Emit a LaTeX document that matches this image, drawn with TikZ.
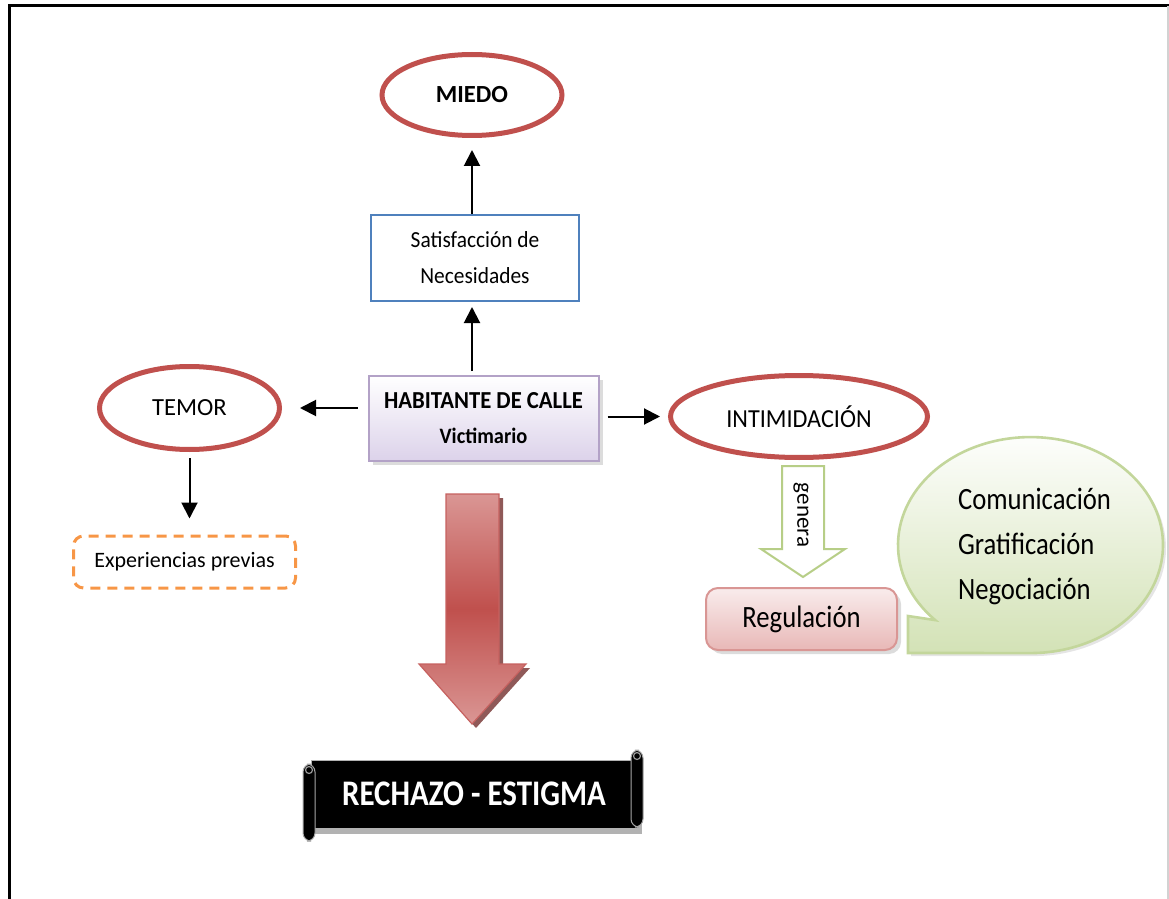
\documentclass[tikz,border=0pt]{standalone}
\usepackage{fontspec}
\setmainfont{Carlito}
\newfontfamily\condfont{Carlito}[FakeStretch=0.86]
\newfontfamily\semicond{Carlito}[FakeStretch=0.93]
\usetikzlibrary{shapes.geometric,arrows.meta,shadows,calc}
\definecolor{ovalred}{HTML}{C0504D}
\definecolor{boxblue}{HTML}{4F81BD}
\definecolor{lilacedge}{HTML}{B3A2C7}
\definecolor{lilacfill}{HTML}{DCD2EA}
\definecolor{orangedash}{HTML}{F79646}
\definecolor{pinkedge}{HTML}{D99694}
\definecolor{pinklight}{HTML}{F9ECEC}
\definecolor{pinkfill}{HTML}{E8B8B7}
\definecolor{greenedge}{HTML}{C3D69B}
\definecolor{greenfill}{HTML}{D3E2B6}
\definecolor{arrowgreen}{HTML}{9BBB59}
\definecolor{redlight}{HTML}{DA9694}
\tikzset{
  oval/.style={ellipse, draw=ovalred, line width=2.5pt, fill=white, inner sep=0pt},
  arr/.style={-{Triangle[length=8pt,width=8pt]}, line width=1pt, black},
  softshadow/.style={drop shadow={shadow xshift=2pt, shadow yshift=-2pt, fill=gray!55}},
}
\begin{document}
\begin{tikzpicture}[x=0.5pt,y=-0.5pt]
\useasboundingbox (0,0) rectangle (1169,899);
% frame
\draw[line width=1.5pt] (9.5,899) -- (9.5,6) -- (1169,6);
\draw[gray!35, line width=1pt] (1167.5,6) -- (1167.5,899);

% nodes
\node[oval, minimum width=90pt, minimum height=40.5pt,
      font=\bfseries\fontsize{12.3}{14}\selectfont] (miedo) at (472,95) {MIEDO};
\node[draw=boxblue, line width=1pt, minimum width=104pt, minimum height=43pt,
      align=center, font=\semicond\fontsize{11.5}{18}\selectfont] (sat) at (475,258)
      {Satisfacción de\\Necesidades};
\node[draw=lilacedge, line width=1pt, top color=white, bottom color=lilacfill,
      softshadow, minimum width=115pt, minimum height=42.5pt, align=center,
      font=\semicond\bfseries\fontsize{12.2}{17.5}\selectfont] (hab) at (483.5,418.5)
      {HABITANTE DE CALLE\\{\fontsize{11}{12}\selectfont Victimario}};
\node[oval, minimum width=90pt, minimum height=41.5pt,
      font=\fontsize{12.3}{14}\selectfont] (temor) at (189.5,408) {TEMOR};
\node[oval, minimum width=128.5pt, minimum height=41pt,
      font=\semicond\fontsize{13}{15}\selectfont] (intim) at (799,416.5) {INTIMIDACIÓN};
\node[draw=orangedash, dash pattern=on 5pt off 3.5pt, line width=1.5pt,
      rounded corners=5pt, minimum width=111pt, minimum height=26pt,
      font=\fontsize{11}{13}\selectfont] (exp) at (184.5,562) {Experiencias previas};

% connectors
\draw[arr, shorten >=6pt] (miedo.south |- sat.north) -- (miedo.south);
\draw[arr, shorten <=2pt, shorten >=2.5pt] (hab.north -| miedo.south) -- (sat.south -| miedo.south);
\draw[arr, shorten <=5pt, shorten >=9pt] (hab.west |- temor.east) -- (temor.east);
\draw[arr, shorten <=4pt, shorten >=4pt] (hab.east |- intim.west) -- (intim.west);
\draw[arr, shorten <=3pt, shorten >=8pt] (temor.south) -- (temor.south |- exp.north);

% "genera" hollow arrow
\draw[draw=greenedge!70!arrowgreen, line width=1pt, fill=white]
  (782,466) -- (824,466) -- (824,549) -- (845,549) -- (803,577) -- (761,549) -- (782,549) -- cycle;
\node[rotate=-90, font=\fontsize{11.5}{13}\selectfont] (gen) at (801,515) {genera};

% speech bubble
\path[draw=greenedge, line width=1.3pt, top color=white, bottom color=greenfill,
      drop shadow={shadow xshift=1.5pt, shadow yshift=-1.5pt, fill=gray!40}]
  (908,653) -- (908,616) -- (935.2,620.1)
  arc[start angle=136, end angle=450, x radius=132.5, y radius=108] -- cycle;
\node[anchor=west, align=left, font=\condfont\fontsize{15.5}{22.5}\selectfont]
  (bub) at (951,546) {Comunicación\\Gratificación\\Negociación};

% Regulacion
\node[draw=pinkedge, line width=1pt, rounded corners=6pt, top color=pinklight,
      bottom color=pinkfill, softshadow, minimum width=95.5pt, minimum height=31pt,
      font=\condfont\fontsize{15.5}{18}\selectfont] (reg) at (801.5,619) {Regulación};

% big red arrow
\path[drop shadow={shadow xshift=2pt, shadow yshift=-2pt, fill=ovalred!60!black, opacity=0.8},
      draw=ovalred!90, line width=0.6pt, top color=redlight, bottom color=redlight,
      middle color=ovalred]
  (446,494) -- (499,494) -- (499,664) -- (526,664) -- (472,724) -- (419,664) -- (446,664) -- cycle;

% scroll banner
\fill[black!30] (315,766) rectangle (642,834);
\node[fill=black, draw=gray!60, line width=0.5pt, minimum width=163pt, minimum height=34pt,
      inner sep=0pt, text=white, font=\condfont\bfseries\fontsize{18}{20}\selectfont]
      (rech) at (474,794) {RECHAZO - ESTIGMA};
\filldraw[fill=black, draw=gray!70, line width=0.5pt, rounded corners=4pt]
  (303,764) rectangle (315,841);
\draw[gray!80, line width=0.6pt] (309,770) circle[radius=3.5];
\filldraw[fill=black, draw=gray!70, line width=0.5pt, rounded corners=4pt]
  (631,750) rectangle (643,827);
\draw[gray!80, line width=0.6pt] (637,756) circle[radius=3.5];
\end{tikzpicture}
\end{document}
